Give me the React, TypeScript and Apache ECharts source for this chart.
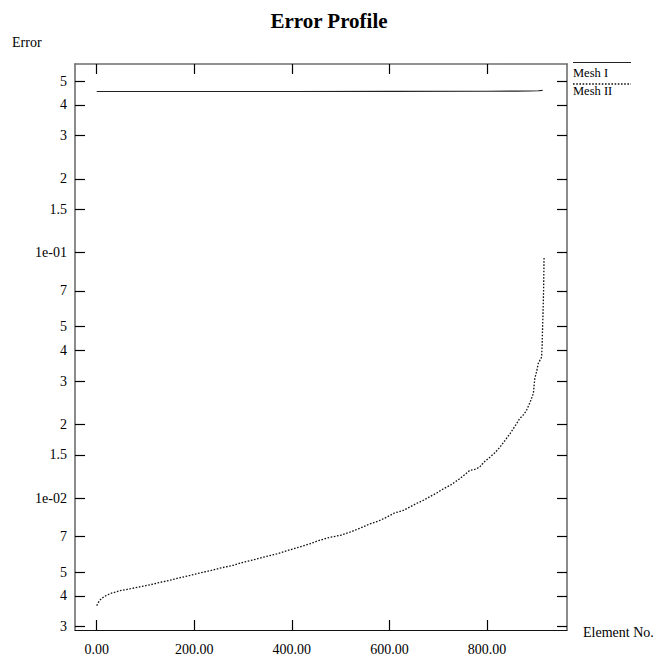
import React, { useEffect, useRef } from "react";
import * as echarts from "echarts";

const meshIElements = [0, 200, 400, 600, 800, 860, 890, 905, 914];
const meshIErrors = [0.454, 0.454, 0.454, 0.4545, 0.455, 0.4555, 0.456, 0.457, 0.459];

const meshIIElements = [0, 3, 8, 13, 20, 30, 48, 70, 90, 110, 130, 150, 170, 190, 212, 235, 255, 280, 300, 320, 340, 369, 396, 415, 437, 455, 478, 500, 519, 540, 560, 578, 594, 610, 628, 650, 669, 685, 697, 710, 725, 744, 755, 765, 775, 785, 795, 806, 816, 826, 836, 847, 857, 867, 875, 881, 888, 895, 898, 902, 905, 909, 912, 913, 914, 915, 916, 917];
const meshIIErrors = [0.00365, 0.00375, 0.00387, 0.00394, 0.00402, 0.0041, 0.0042, 0.00428, 0.00436, 0.00444, 0.00454, 0.00463, 0.00474, 0.00484, 0.00496, 0.00508, 0.0052, 0.00533, 0.00548, 0.0056, 0.00574, 0.00593, 0.00616, 0.00632, 0.00652, 0.00672, 0.00693, 0.00706, 0.00727, 0.00755, 0.00786, 0.00808, 0.00836, 0.0087, 0.00891, 0.0094, 0.00979, 0.0102, 0.0105, 0.0109, 0.0113, 0.012, 0.0125, 0.013, 0.0131, 0.0134, 0.0141, 0.0147, 0.0153, 0.0161, 0.0171, 0.0183, 0.0196, 0.0211, 0.0219, 0.0228, 0.0245, 0.0267, 0.0307, 0.033, 0.0354, 0.0366, 0.0376, 0.042, 0.05, 0.058, 0.07, 0.096];

const xTickValues = [0, 200, 400, 600, 800];
const xTickLabels = ["0.00", "200.00", "400.00", "600.00", "800.00"];
const yTickValues = [0.003, 0.004, 0.005, 0.007, 0.01, 0.015, 0.02, 0.03, 0.04, 0.05, 0.07, 0.1, 0.15, 0.2, 0.3, 0.4, 0.5];
const yTickLabels = ["3", "4", "5", "7", "1e-02", "1.5", "2", "3", "4", "5", "7", "1e-01", "1.5", "2", "3", "4", "5"];

const SERIF = "'Liberation Serif', 'DejaVu Serif', serif";

const yLogTicks = yTickValues.map((v) => Math.log10(v));

function nearestIndex(arr: number[], v: number) {
  let best = 0;
  let bd = Infinity;
  arr.forEach((a, i) => {
    const d = Math.abs(a - v);
    if (d < bd) {
      bd = d;
      best = i;
    }
  });
  return best;
}

export default function App() {
  const ref = useRef<HTMLDivElement>(null);
  useEffect(() => {
    if (!ref.current) return;
    const chart = echarts.init(ref.current, undefined, { renderer: "svg" });
    const xMin = -44.5;
    const xMax = 964;
    const yMin = -2.537;
    const yMax = -0.231;
    const tickStyle = { show: true, inside: true, length: 10, lineStyle: { color: "#000", width: 1.2 } };
    const frameColor = "#6e6e6e";
    const baseX = {
      type: "value" as const,
      min: xMin,
      max: xMax,
      splitLine: { show: false },
    };
    const baseY = {
      type: "value" as const,
      min: yMin,
      max: yMax,
      splitLine: { show: false },
    };
    chart.setOption({
      animation: false,
      backgroundColor: "#fff",
      title: {
        text: "Error Profile",
        left: "center",
        top: 5,
        textStyle: { fontFamily: SERIF, fontWeight: "bold", fontSize: 21, color: "#000" },
      },
      grid: { left: 75, right: 91, top: 64, bottom: 29, containLabel: false },
      xAxis: [
        {
          ...baseX,
          position: "bottom",
          axisLine: { show: true, onZero: false, lineStyle: { color: "#111", width: 1.2 } },
          axisTick: { ...tickStyle, customValues: xTickValues },
          axisLabel: {
            show: true,
            customValues: xTickValues,
            margin: 12,
            fontFamily: SERIF,
            fontSize: 14,
            color: "#000",
            formatter: (v: number) => xTickLabels[nearestIndex(xTickValues, v)],
          },
        },
        {
          ...baseX,
          position: "top",
          axisLine: { show: true, onZero: false, lineStyle: { color: frameColor, width: 1.6 } },
          axisTick: { ...tickStyle, customValues: xTickValues },
          axisLabel: { show: false },
        },
      ],
      yAxis: [
        {
          ...baseY,
          position: "left",
          axisLine: { show: true, onZero: false, lineStyle: { color: frameColor, width: 1.6 } },
          axisTick: { ...tickStyle, customValues: yLogTicks },
          axisLabel: {
            show: true,
            customValues: yLogTicks,
            margin: 8,
            fontFamily: SERIF,
            fontSize: 14,
            color: "#000",
            formatter: (v: number) => yTickLabels[nearestIndex(yLogTicks, v)],
          },
        },
        {
          ...baseY,
          position: "right",
          axisLine: { show: true, onZero: false, lineStyle: { color: frameColor, width: 1.6 } },
          axisTick: { ...tickStyle, customValues: yLogTicks },
          axisLabel: { show: false },
        },
      ],
      series: [
        {
          name: "Mesh I",
          type: "line",
          showSymbol: false,
          xAxisIndex: 0,
          yAxisIndex: 0,
          lineStyle: { color: "#222", width: 1.2, type: "solid" },
          data: meshIElements.map((x, i) => [x, Math.log10(meshIErrors[i])]),
        },
        {
          name: "Mesh II",
          type: "line",
          showSymbol: false,
          xAxisIndex: 0,
          yAxisIndex: 0,
          lineStyle: { color: "#111", width: 1.3, type: [1.6, 1.6] },
          data: meshIIElements.map((x, i) => [x, Math.log10(meshIIErrors[i])]),
        },
      ],
      graphic: [
        {
          type: "text",
          x: 12,
          y: 42,
          style: { text: "Error", fontFamily: SERIF, fontSize: 14, fill: "#000", verticalAlign: "middle" },
        },
        {
          type: "text",
          x: 583,
          y: 632,
          style: { text: "Element No.", fontFamily: SERIF, fontSize: 14, fill: "#000", verticalAlign: "middle" },
        },
        {
          type: "line",
          shape: { x1: 573, y1: 62.5, x2: 631, y2: 62.5 },
          style: { stroke: "#222", lineWidth: 1.2 },
        },
        {
          type: "text",
          x: 573,
          y: 73,
          style: { text: "Mesh I", fontFamily: SERIF, fontSize: 12.5, fill: "#000", verticalAlign: "middle" },
        },
        {
          type: "line",
          shape: { x1: 573, y1: 84, x2: 631, y2: 84 },
          style: { stroke: "#111", lineWidth: 1.3, lineDash: [1.6, 1.6] },
        },
        {
          type: "text",
          x: 573,
          y: 91,
          style: { text: "Mesh II", fontFamily: SERIF, fontSize: 12.5, fill: "#000", verticalAlign: "middle" },
        },
      ],
    });
    return () => chart.dispose();
  }, []);
  return (
    <div
      ref={ref}
      style={{ position: "fixed", left: 0, top: 0, width: 658, height: 659, background: "#fff" }}
    />
  );
}
